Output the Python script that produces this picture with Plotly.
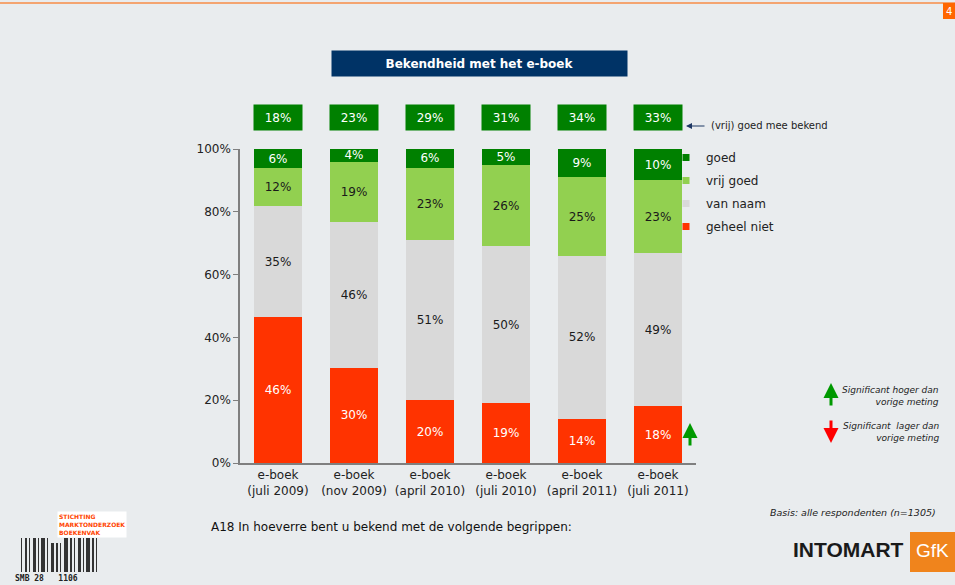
import plotly.graph_objects as go

categories = ['e-boek<br>(juli 2009)', 'e-boek<br>(nov 2009)', 'e-boek<br>(april 2010)',
              'e-boek<br>(juli 2010)', 'e-boek<br>(april 2011)', 'e-boek<br>(juli 2011)']
geheel_niet = [46, 30, 20, 19, 14, 18]
van_naam = [35, 46, 51, 50, 52, 49]
vrij_goed = [12, 19, 23, 26, 25, 23]
goed = [6, 4, 6, 5, 9, 10]
goed_totaal = [18, 23, 29, 31, 34, 33]
significant_hoger = [False, False, False, False, False, True]
y_ticks = [0, 20, 40, 60, 80, 100]

W, H = 955, 585
L, R, T, B = 240, 696, 149, 463
FONT = 'DejaVu Sans'
BG = '#E9ECEE'


def px(x):
    return (x - L) / (R - L)


def py(y):
    return (B - y) / (B - T)


def note(x, y, text, size=10, color='#222', xanchor='center', family=FONT, **kw):
    return dict(x=px(x), y=py(y), xref='paper', yref='paper', text=text,
                showarrow=False, xanchor=xanchor, yanchor='middle',
                font=dict(size=size, color=color, family=family), **kw)


def arrow(x, y, ay, color, width=3, ax=0):
    return dict(x=px(x), y=py(y), xref='paper', yref='paper', ax=ax, ay=ay, text='',
                showarrow=True, arrowhead=2, arrowsize=1, arrowwidth=width, arrowcolor=color)


series = [
    ('geheel niet', geheel_niet, '#FF3300', 'white'),
    ('van naam', van_naam, '#D9D9D9', '#1a1a1a'),
    ('vrij goed', vrij_goed, '#92D050', '#1a1a1a'),
    ('goed', goed, '#008000', 'white'),
]

fig = go.Figure()
for name, vals, color, tcolor in series:
    fig.add_trace(go.Bar(
        x=categories, y=vals, name=name, showlegend=False,
        marker=dict(color=color, line=dict(width=0)),
        text=[f'{v}%' for v in vals], texttemplate='%{text}',
        textposition='inside', insidetextanchor='middle',
        textfont=dict(color=tcolor, size=12, family=FONT),
        constraintext='none',
    ))

# small square legend entries, one group each so the gap can be set
for name, vals, color, tcolor in reversed(series):
    fig.add_trace(go.Scatter(
        x=[None], y=[None], mode='markers', name=name, legendgroup=name,
        marker=dict(symbol='square', size=7, color=color),
    ))

annotations = []
for cat, tot in zip(categories, goed_totaal):
    annotations.append(dict(
        x=cat, xref='x', y=py(117), yref='paper', text=f'{tot}%',
        xanchor='center', yanchor='middle',
        showarrow=False, bgcolor='#008000', width=46, height=23,
        font=dict(color='white', size=12, family=FONT),
    ))

# significance arrow next to bars
for cat, sig in zip(categories, significant_hoger):
    if sig:
        annotations.append(dict(
            x=cat, xref='x', xshift=32, y=py(423), yref='paper',
            ax=0, ay=24, showarrow=True, arrowhead=2, arrowsize=1,
            arrowwidth=3, arrowcolor='#009900', text='',
        ))

annotations += [
    note(479, 63, '<b>Bekendheid met het e-boek</b>', size=12, color='white',
         bgcolor='#003366', width=293, height=23),
    note(709, 126, '(vrij) goed mee bekend', xanchor='left'),
    arrow(686, 126, 0, '#1F3864', width=1.2, ax=20),
    arrow(831, 383, 24, '#009900'),
    arrow(831, 443, -24, '#FF0000'),
    note(941, 396, '<i>Significant hoger dan<br>vorige meting</i>', size=9,
         xanchor='right', align='right'),
    note(941, 432, '<i>Significant  lager dan<br>vorige meting</i>', size=9,
         xanchor='right', align='right'),
    note(938, 512, '<i>Basis: alle respondenten (n=1305)</i>', size=9.5, xanchor='right'),
    note(209, 527, 'A18 In hoeverre bent u bekend met de volgende begrippen:', size=12,
         color='#111', xanchor='left'),
    note(906, 549, '<b>INTOMART</b>', size=21, color='#1a1a1a', xanchor='right',
         family='Liberation Sans'),
    note(932, 550, 'GfK', size=19, color='white', family='Liberation Sans'),
    note(949, 11, '4', color='white'),
    note(57, 524, '<b>STICHTING<br>MARKTONDERZOEK<br>BOEKENVAK</b>', size=6,
         color='#FF4400', xanchor='left', align='left', bgcolor='white'),
    note(13, 578, '<b>SMB 28   1106</b>', size=8, family='DejaVu Sans Mono', xanchor='left'),
]

shapes = [
    dict(type='line', xref='paper', yref='paper', x0=px(0), x1=px(955), y0=py(3), y1=py(3),
         line=dict(color='#F4A470', width=2)),
    dict(type='rect', xref='paper', yref='paper', x0=px(943), x1=px(955), y0=py(3), y1=py(19),
         fillcolor='#FF6600', line=dict(width=0)),
    dict(type='rect', xref='paper', yref='paper', x0=px(910), x1=px(955), y0=py(532), y1=py(572),
         fillcolor='#F0841C', line=dict(width=0)),
]
# barcode decoration
barcode = [(21, 1), (25, 2), (29, 1), (33, 3), (38, 1), (41, 4), (47, 1), (51, 3), (56, 2), (60, 1),
           (64, 4), (70, 2), (74, 1), (78, 3), (83, 1), (86, 4), (92, 2), (96, 1)]
for bx, bw in barcode:
    shapes.append(dict(type='rect', xref='paper', yref='paper', x0=px(bx), x1=px(bx + bw),
                       y0=py(538 if bx < 50 or bx > 62 else 543), y1=py(572),
                       fillcolor='#333', line=dict(width=0)))

fig.update_layout(
    width=W, height=H,
    barmode='stack', barnorm='percent', bargap=0.36,
    paper_bgcolor=BG, plot_bgcolor=BG,
    margin=dict(l=L, r=W - R, t=T, b=H - B, autoexpand=False),
    font=dict(family=FONT, size=12, color='#222'),
    showlegend=True,
    legend=dict(x=px(666), y=py(143), xanchor='left', yanchor='top', traceorder='grouped',
                bgcolor='rgba(0,0,0,0)', itemwidth=30, tracegroupgap=4,
                font=dict(size=12, family=FONT, color='#222')),
    xaxis=dict(showline=True, linecolor='#7f7f7f', linewidth=1.5, ticks='',
               tickfont=dict(size=12, family=FONT, color='#222'), showgrid=False,
               range=[-0.5, 5.5]),
    yaxis=dict(range=[0, 100], tickvals=y_ticks, ticktext=[f'{v}%' for v in y_ticks],
               showline=True, linecolor='#7f7f7f', linewidth=1.5, ticks='outside',
               ticklen=5, tickcolor='#7f7f7f', showgrid=False, zeroline=False,
               tickfont=dict(size=12, family=FONT, color='#222')),
    annotations=annotations,
    shapes=shapes,
)

fig.write_html('out.html', config={'displayModeBar': False},
               post_script="document.body.style.margin='0';")
